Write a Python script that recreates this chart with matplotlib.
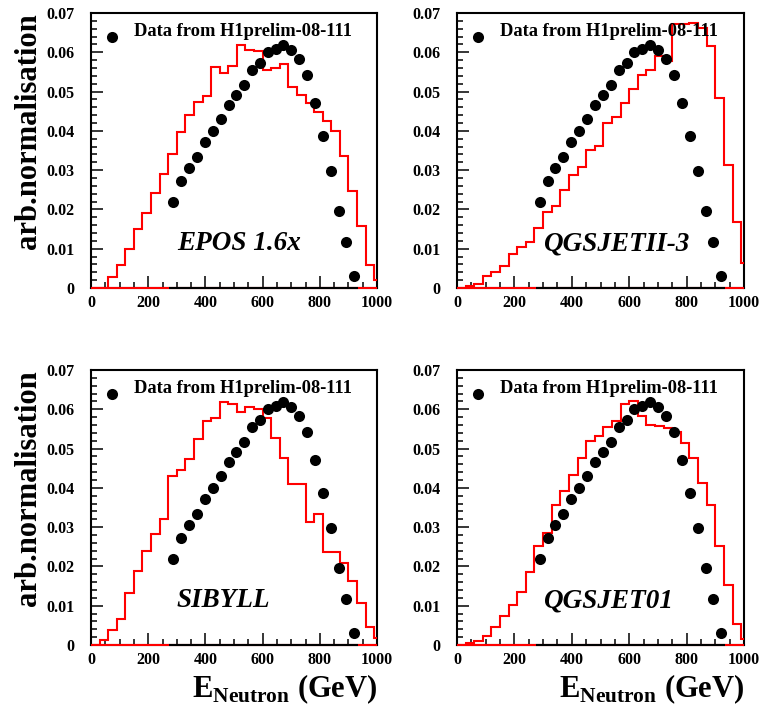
import numpy as np
import matplotlib
matplotlib.use("Agg")
import matplotlib.pyplot as plt
from matplotlib.ticker import MultipleLocator, FuncFormatter

plt.rcParams['font.family'] = ['Liberation Serif', 'DejaVu Serif']
plt.rcParams['font.weight'] = 'bold'
plt.rcParams['mathtext.fontset'] = 'custom'
plt.rcParams['mathtext.bf'] = 'Liberation Serif:bold'
plt.rcParams['mathtext.rm'] = 'Liberation Serif:bold'

# ---------------- data ----------------
data_label = "Data from H1prelim-08-111"
data_energy = [288, 316, 343, 371, 398, 426, 453, 481, 508, 536, 563, 591,
               618, 646, 673, 701, 728, 756, 783, 811, 838, 866, 893, 921]
data_norm = [0.0218, 0.0273, 0.0306, 0.0333, 0.0371, 0.0399, 0.0431, 0.0466,
             0.0492, 0.0516, 0.0554, 0.0572, 0.0601, 0.0608, 0.0619, 0.0605,
             0.0584, 0.0541, 0.0472, 0.0387, 0.0298, 0.0195, 0.0117, 0.0031]
data_bin_width = 27.5

mc_bin_edges = list(range(0, 1021, 30))

epos = [0, 0, 0.0029, 0.0059, 0.0099, 0.0150, 0.0192, 0.0243, 0.0290, 0.0342,
        0.0398, 0.0441, 0.0473, 0.0489, 0.0562, 0.0547, 0.0564, 0.0619, 0.0607,
        0.0602, 0.0556, 0.0560, 0.0570, 0.0511, 0.0492, 0.0471, 0.0448, 0.0424,
        0.0400, 0.0335, 0.0246, 0.0159, 0.0059, 0.0020]
qgsjetii = [0, 0.0005, 0.0010, 0.0031, 0.0042, 0.0056, 0.0087, 0.0105, 0.0116,
            0.0152, 0.0193, 0.0209, 0.0250, 0.0288, 0.0309, 0.0350, 0.0362,
            0.0420, 0.0434, 0.0471, 0.0506, 0.0543, 0.0554, 0.0590, 0.0577,
            0.0672, 0.0673, 0.0675, 0.0662, 0.0617, 0.0483, 0.0313, 0.0167,
            0.0063]
sibyll = [0, 0.0014, 0.0039, 0.0066, 0.0132, 0.0189, 0.0240, 0.0282, 0.0321,
          0.0431, 0.0446, 0.0473, 0.0525, 0.0569, 0.0577, 0.0619, 0.0613,
          0.0592, 0.0607, 0.0601, 0.0577, 0.0526, 0.0477, 0.0409, 0.0409,
          0.0314, 0.0334, 0.0236, 0.0236, 0.0208, 0.0162, 0.0107, 0.0047,
          0.0018]
qgsjet01 = [0, 0.0004, 0.0009, 0.0024, 0.0047, 0.0073, 0.0103, 0.0134, 0.0187,
            0.0251, 0.0285, 0.0357, 0.0393, 0.0433, 0.0475, 0.0520, 0.0531,
            0.0556, 0.0569, 0.0613, 0.0622, 0.0583, 0.0560, 0.0558, 0.0553,
            0.0541, 0.0515, 0.0475, 0.0412, 0.0357, 0.0251, 0.0153, 0.0053,
            0.0015]

model_names = ["EPOS 1.6x", "QGSJETII-3", "SIBYLL", "QGSJET01"]
model_values = [epos, qgsjetii, sibyll, qgsjet01]

x_range = (0, 1000)
y_range = (0, 0.07)
x_label = r'$\mathbf{E}_{\mathbf{Neutron}}$ (GeV)'
y_label = "arb.normalisation"

# ---------------- figure ----------------
W, H = 763, 713
fig = plt.figure(figsize=(W / 100, H / 100), dpi=100)

panel_px = [(91, 13, 377, 288), (457, 13, 744, 288),
            (91, 370, 377, 645), (457, 370, 744, 645)]


def fmt_y(v, pos):
    if abs(v) < 1e-9:
        return "0"
    return f"{v:.2f}"


for i, (l, t, r, b) in enumerate(panel_px):
    ax = fig.add_axes([l / W, 1 - b / H, (r - l) / W, (b - t) / H])
    ax.set_xlim(*x_range)
    ax.set_ylim(*y_range)

    # red MC histogram
    ax.stairs(model_values[i], mc_bin_edges, color='red', lw=1.5,
              baseline=0, zorder=3)
    ax.plot([x_range[0], x_range[1]], [0, 0], color='red', lw=1.5,
            zorder=3, clip_on=False, solid_capstyle='butt')
    ax.plot([data_energy[0] - data_bin_width / 2,
             data_energy[-1] + data_bin_width / 2], [0, 0],
            color='black', lw=1.5, zorder=3.1, clip_on=False,
            solid_capstyle='butt')

    # data points
    ax.plot(data_energy, data_norm, 'o', color='black', ms=8, mew=0,
            zorder=4)

    # legend
    ax.plot([0.073], [0.913], 'o', color='black', ms=8, mew=0,
            transform=ax.transAxes, clip_on=False, zorder=5)
    ax.text(0.150, 0.9175, data_label, transform=ax.transAxes,
            fontsize=13.3, fontweight='bold', va='baseline', ha='left')

    # model name
    ax.text(0.30, 0.138, model_names[i], transform=ax.transAxes,
            fontsize=19.5, fontweight='bold', fontstyle='italic',
            va='baseline', ha='left')

    # axes style
    for sp in ax.spines.values():
        sp.set_linewidth(1.5)
    ax.xaxis.set_major_locator(MultipleLocator(200))
    ax.xaxis.set_minor_locator(MultipleLocator(50))
    ax.yaxis.set_major_locator(MultipleLocator(0.01))
    ax.yaxis.set_minor_locator(MultipleLocator(0.002))
    ax.yaxis.set_major_formatter(FuncFormatter(fmt_y))
    ax.tick_params(which='both', direction='in', top=False, right=False,
                   width=1.1, labelsize=11.5)
    ax.tick_params(which='major', length=8.6)
    ax.tick_params(which='minor', length=4.3)
    ax.tick_params(axis='x', pad=5)
    ax.tick_params(axis='y', pad=12)
    for lab in ax.get_xticklabels() + ax.get_yticklabels():
        lab.set_fontweight('bold')

    if i % 2 == 0:
        ax.text(-0.22, 1.0, y_label, transform=ax.transAxes, rotation=90,
                ha='center', va='top', fontsize=22, fontweight='bold')
    if i >= 2:
        ax.text(1.0, -0.189, x_label, transform=ax.transAxes,
                ha='right', va='baseline', fontsize=22, fontweight='bold')

fig.savefig("out.png", dpi=100)
